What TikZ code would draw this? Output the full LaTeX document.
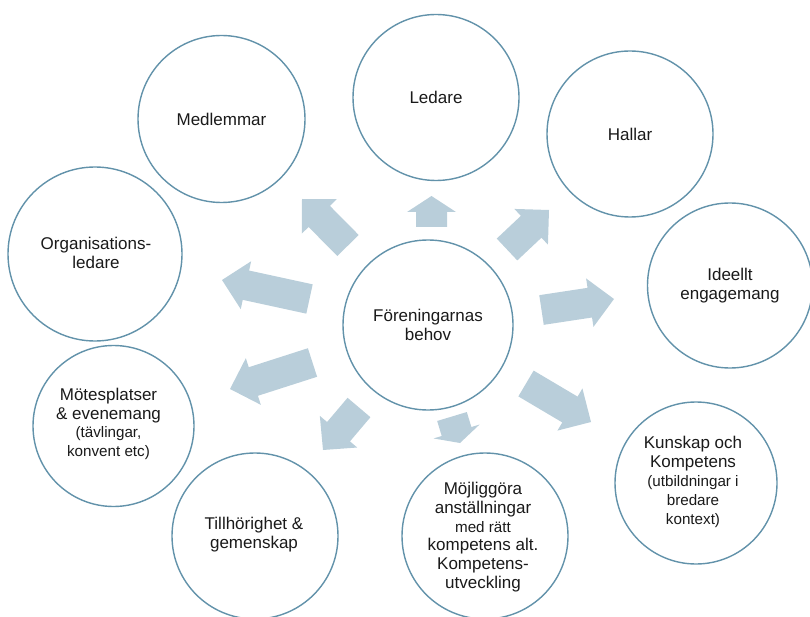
\documentclass[tikz,border=0pt]{standalone}
\usepackage{fontspec}
\setmainfont{Liberation Sans}
\usetikzlibrary{calc}
\definecolor{ringc}{RGB}{98,146,170}
\definecolor{arrowc}{RGB}{185,206,218}
\definecolor{textc}{RGB}{26,26,26}
\newcommand\mainsz{\fontsize{17}{18.8}\selectfont}
\newcommand\smallsz{\fontsize{15.2}{15.8}\selectfont}
\tikzset{
  ring/.style={circle, draw=ringc, line width=1.4pt, fill=white, inner sep=0pt},
  ringtext/.style={align=center, text=textc, font=\mainsz, inner sep=0pt},
  arrowfill/.style={fill=arrowc, draw=none}
}
% #1 tail, #2 tip, #3 half shaft width, #4 half head width, #5 head length
\newcommand\blockarrow[5]{%
  \coordinate (#1h) at ($(#2)!#5!(#1)$);
  \fill[arrowfill] ($(#1)!#3!90:(#2)$) -- ($(#1h)!#3!90:(#2)$) -- ($(#1h)!#4!90:(#2)$)
    -- (#2) -- ($(#1h)!#4!-90:(#2)$) -- ($(#1h)!#3!-90:(#2)$) -- ($(#1)!#3!-90:(#2)$) -- cycle;
}
\begin{document}
\begin{tikzpicture}[x=1pt,y=-1pt]
\useasboundingbox (0,0) rectangle (810,617);
% circles
\node[ring, minimum size=170pt] (center) at (428,325) {};
\node[ring, minimum size=166pt] (ledare) at (436,97.5) {};
\node[ring, minimum size=167pt] (medlemmar) at (221.5,119) {};
\node[ring, minimum size=166pt] (hallar) at (630,134) {};
\node[ring, minimum size=165pt] (ideellt) at (730,285.5) {};
\node[ring, minimum size=174pt] (org) at (95,254) {};
\node[ring, minimum size=161pt] (mote) at (113.5,426) {};
\node[ring, minimum size=166pt] (till) at (255,536) {};
\node[ring, minimum size=166pt] (mojl) at (485,536) {};
\node[ring, minimum size=162pt] (kunskap) at (696,483) {};
% texts
\node[ringtext] at (center) {Föreningarnas\\behov};
\node[ringtext] at (ledare) {Ledare};
\node[ringtext] at (medlemmar) {Medlemmar};
\node[ringtext] at (hallar) {Hallar};
\node[ringtext] at (ideellt) {Ideellt\\engagemang};
\node[ringtext] at ($(org)+(1,-1)$) {Organisations-\\ledare};
\node[ringtext] at ($(mote)+(-5,-2)$) {Mötesplatser\\\& evenemang\\{\smallsz (tävlingar,}\\{\smallsz konvent etc)}};
\node[ringtext] at ($(till)+(-1,-1)$) {Tillhörighet \&\\gemenskap};
\node[ringtext] at ($(mojl)+(-2,1)$) {Möjliggöra\\anställningar\\{\smallsz med rätt}\\kompetens alt.\\Kompetens-\\utveckling};
\node[ringtext] at ($(kunskap)+(-3,-1)$) {Kunskap och\\Kompetens\\{\smallsz (utbildningar i}\\{\smallsz bredare}\\{\smallsz kontext)}};
% arrow coordinates
\coordinate (aLt) at (431.5,227);   \coordinate (aLp) at (431.5,196);
\coordinate (aMt) at (348,245.5);   \coordinate (aMp) at (302,199);
\coordinate (aHt) at (507,249.5);   \coordinate (aHp) at (549,210);
\coordinate (aOt) at (309.5,299);   \coordinate (aOp) at (222,280);
\coordinate (aIt) at (541.5,310);   \coordinate (aIp) at (614,299);
\coordinate (aMot) at (312.5,362.5); \coordinate (aMop) at (230,389);
\coordinate (aTt) at (359,407.5);   \coordinate (aTp) at (323,450);
\coordinate (aJt) at (452,416.5);   \coordinate (aJp) at (460,443);
\coordinate (aKt) at (526,383.5);   \coordinate (aKp) at (591,422);
\blockarrow{aLt}{aLp}{15.5pt}{24.5pt}{16pt}
\blockarrow{aMt}{aMp}{15pt}{24.5pt}{24.5pt}
\blockarrow{aHt}{aHp}{15pt}{24.5pt}{24.5pt}
\blockarrow{aOt}{aOp}{15pt}{24.5pt}{24.5pt}
\blockarrow{aIt}{aIp}{15pt}{24.5pt}{24.5pt}
\blockarrow{aMot}{aMop}{15pt}{24.5pt}{24.5pt}
\blockarrow{aTt}{aTp}{15pt}{24.5pt}{24pt}
\blockarrow{aJt}{aJp}{15.5pt}{24pt}{12pt}
\blockarrow{aKt}{aKp}{15pt}{24.5pt}{24.5pt}
\end{tikzpicture}
\end{document}
